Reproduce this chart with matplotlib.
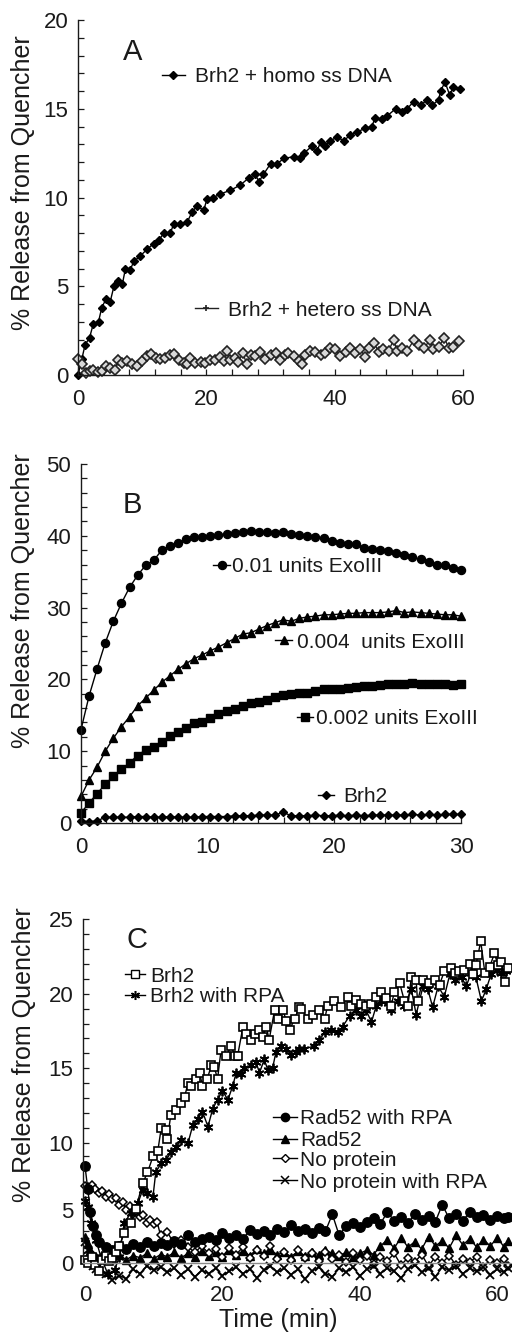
import numpy as np
import matplotlib
matplotlib.use("Agg")
import matplotlib.pyplot as plt
from matplotlib.legend import Legend
from matplotlib.ticker import FixedLocator, MultipleLocator, NullFormatter, FixedFormatter

plt.rcParams['font.family'] = ['Liberation Sans', 'DejaVu Sans']

# ---------------- Panel A data ----------------
a_homo_t = [0, 0.6, 1.1, 1.8, 2.4, 3.2, 3.7, 4.4, 5.0, 5.6, 6.2, 6.9, 7.4, 8.1, 8.7, 9.7, 10.8, 11.8,
            12.6, 13.4, 14.4, 14.9, 15.9, 17.0, 17.8, 18.5, 19.6, 20.1, 21.1, 22.2, 23.7, 25.3, 26.6,
            27.6, 28.2, 28.9, 30.0, 31.0, 32.1, 33.6, 34.6, 35.2, 36.5, 37.2, 37.8, 38.5, 39.3, 40.4,
            41.4, 42.4, 43.5, 44.8, 45.8, 46.3, 47.4, 48.2, 49.5, 50.5, 51.3, 52.3, 53.4, 54.4, 55.2,
            56.2, 56.5, 57.2, 57.9, 58.5, 59.5]
a_homo_v = [0, 0.9, 1.7, 2.1, 2.9, 3.0, 3.8, 4.3, 4.1, 5.0, 5.3, 5.1, 6.0, 5.9, 6.4, 6.7, 7.1, 7.4,
            7.6, 8.0, 8.0, 8.5, 8.5, 8.6, 9.2, 9.5, 9.3, 9.9, 10.0, 10.2, 10.4, 10.7, 11.1,
            11.3, 10.9, 11.3, 11.9, 11.9, 12.2, 12.3, 12.2, 12.5, 12.9, 12.6, 13.1, 12.9, 13.2, 13.4,
            13.2, 13.5, 13.7, 13.9, 14.0, 14.5, 14.4, 14.6, 15.0, 14.8, 15.0, 15.4, 15.2, 15.5, 15.2,
            15.5, 16.0, 16.5, 15.8, 16.2, 16.1]
a_het_t = [0, 0.6, 1.3, 1.9, 2.4, 3.1, 3.7, 4.4, 5.0, 5.8, 6.2, 6.9, 7.6, 8.4, 9.2, 10.0, 10.8, 11.3,
           12.1, 12.8, 13.6, 14.4, 15.0, 15.7, 16.5, 17.0, 17.5, 18.3, 19.1, 19.8, 20.6, 21.4, 22.1,
           22.7, 23.2, 23.7, 24.5, 25.0, 25.7, 26.3, 26.9, 27.6, 28.4, 29.2, 30.0, 30.8, 31.5, 32.2,
           32.8, 33.6, 34.4, 34.9, 35.4, 36.2, 37.0, 37.8, 38.5, 39.3, 40.1, 40.9, 41.7, 42.4, 43.2,
           44.0, 44.8, 45.3, 46.1, 46.9, 47.6, 48.4, 49.2, 49.7, 50.5, 51.3, 52.3, 53.1, 53.9, 54.8,
           55.4, 56.2, 57.1, 57.8, 58.5, 59.3]
a_het_v = [0.9, 0.6, 0.1, 0.2, 0.3, 0.15, 0.2, 0.5, 0.4, 0.3, 0.85, 0.7, 0.8, 0.6, 0.5, 0.8, 1.05, 1.2,
           0.95, 0.9, 0.95, 1.1, 1.2, 0.85, 0.7, 0.6, 0.95, 0.7, 0.75, 0.7, 0.85, 0.85, 1.0,
           0.8, 1.35, 0.85, 0.95, 0.75, 1.25, 0.6, 1.15, 1.05, 1.3, 0.9, 1.15, 1.25, 0.85, 1.1,
           1.25, 1.05, 0.8, 0.6, 1.1, 1.35, 1.3, 1.15, 1.25, 1.5, 1.45, 1.05, 1.3, 1.5, 1.25,
           1.45, 1.0, 1.5, 1.8, 1.3, 1.45, 1.35, 2.0, 1.35, 1.5, 1.35, 1.95, 1.7, 1.5, 1.95,
           1.45, 1.6, 2.1, 1.5, 1.6, 1.9]

# ---------------- Panel B data ----------------
b_t = np.linspace(0, 30, 48)
b_exo01 = [13.0, 17.7, 21.5, 25.1, 28.1, 30.6, 32.8, 34.5, 35.9, 36.6, 38.0, 38.6, 39.0, 39.5, 39.8, 39.9,
           40.0, 40.1, 40.3, 40.4, 40.5, 40.6, 40.5, 40.5, 40.4, 40.5, 40.2, 40.1, 40.0, 39.9, 39.7, 39.3,
           39.0, 38.9, 38.8, 38.3, 38.2, 38.0, 37.9, 37.6, 37.3, 37.0, 36.7, 36.4, 36.0, 35.9, 35.5, 35.2]
b_exo004 = [3.7, 6.0, 7.8, 10.0, 11.8, 13.4, 14.8, 16.3, 17.4, 18.5, 19.6, 20.5, 21.4, 22.2, 22.9, 23.4,
            24.0, 24.5, 25.1, 25.7, 26.3, 26.5, 27.0, 27.5, 27.9, 28.3, 28.1, 28.5, 28.7, 28.8, 29.0, 29.0,
            29.1, 29.2, 29.2, 29.3, 29.3, 29.3, 29.4, 29.6, 29.3, 29.4, 29.3, 29.2, 29.1, 29.0, 29.0, 28.8]
b_exo002 = [1.4, 2.8, 4.1, 5.4, 6.5, 7.5, 8.4, 9.4, 10.2, 10.6, 11.3, 12.1, 12.7, 13.3, 13.9, 14.1,
            14.6, 15.2, 15.6, 15.9, 16.3, 16.7, 16.9, 17.2, 17.6, 17.8, 17.9, 18.1, 18.1, 18.4, 18.7, 18.7,
            18.6, 18.8, 19.0, 19.1, 19.1, 19.2, 19.4, 19.4, 19.4, 19.5, 19.4, 19.4, 19.4, 19.4, 19.2, 19.4]
b_brh2 = [0.3, 0.2, 0.3, 0.8, 0.8, 0.8, 0.8, 0.9, 0.9, 0.8, 0.8, 0.9, 0.8, 0.8, 0.8, 0.9,
          0.9, 0.9, 0.9, 1.0, 1.0, 1.0, 1.1, 1.1, 1.1, 1.5, 1.0, 1.0, 1.0, 1.1, 1.0, 1.0,
          1.1, 1.0, 1.1, 1.0, 1.1, 1.1, 1.1, 1.1, 1.1, 1.2, 1.1, 1.2, 1.1, 1.2, 1.2, 1.2]

# ---------------- Panel C data ----------------
c_brh2_t = [0, 0.5, 1.0, 1.5, 2.0, 2.5, 3.0, 3.5, 4.0, 4.5, 5.0, 5.7, 6.7, 7.4, 8.4, 9.1, 9.9, 10.6, 11.1,
            11.8, 12.0, 12.5, 13.3, 14.0, 14.5, 15.0, 15.4, 16.2, 16.7, 17.1, 17.8, 18.4, 18.8, 19.3,
            19.8, 20.5, 21.3, 21.8, 22.2, 23.0, 23.4, 24.2, 24.7, 25.4, 25.9, 26.4, 26.8, 27.6, 28.1,
            28.8, 29.3, 29.8, 30.5, 31.2, 31.5, 32.4, 33.2, 34.1, 34.9, 35.3, 36.3, 37.3, 38.3, 38.7,
            39.5, 40.2, 40.9, 41.7, 42.4, 43.1, 43.8, 44.6, 45.0, 45.8, 46.5, 47.0, 47.5, 48.2, 48.4,
            49.2, 50.1, 50.9, 51.6, 52.3, 53.3, 53.8, 54.5, 55.2, 56.0, 56.5, 56.9, 57.2, 57.6, 58.2,
            58.9, 59.6, 60.1, 60.6, 61.1, 61.6]
c_brh2_v = [0.3, 0.0, 0.6, -0.2, -0.8, 0.3, 0.7, 0.2, 0.5, 1.0, 1.6, 2.8, 3.8, 5.1, 7.0, 7.8, 9.0, 9.4, 11.0,
            10.9, 10.3, 11.9, 12.2, 12.7, 13.1, 14.0, 13.8, 14.3, 14.7, 13.8, 14.3, 15.2, 15.1, 14.3,
            16.2, 15.8, 16.5, 15.8, 15.8, 17.8, 17.3, 16.9, 17.3, 17.6, 17.1, 17.8, 16.9, 18.9, 18.3,
            18.9, 18.2, 17.6, 18.3, 19.1, 19.0, 18.3, 18.6, 18.9, 18.3, 19.2, 19.5, 19.1, 19.8, 19.2,
            19.6, 19.3, 19.2, 19.3, 19.8, 20.1, 19.7, 19.2, 20.1, 20.7, 19.5, 19.2, 21.1, 20.9, 19.5,
            20.9, 20.7, 20.9, 20.6, 21.5, 21.7, 21.4, 21.5, 21.6, 22.0, 21.3, 21.9, 22.6, 23.5, 21.4,
            21.8, 22.7, 21.9, 22.1, 20.8, 21.7]
c_brh2rpa_t = [0, 0.4, 0.9, 1.6, 2.3, 3.3, 4.3, 5.0, 5.7, 6.7, 7.7, 8.4, 9.1, 9.9, 10.3, 11.1, 11.8,
               12.5, 13.3, 14.0, 15.0, 15.7, 16.4, 17.1, 17.9, 18.6, 19.3, 20.0, 20.8, 21.5, 22.0, 22.7,
               23.2, 24.2, 24.9, 25.4, 26.1, 26.6, 27.3, 27.8, 28.5, 29.3, 30.0, 30.7, 31.2, 31.9, 33.4,
               34.1, 34.9, 35.8, 36.8, 37.5, 38.5, 39.5, 40.2, 40.9, 41.7, 42.4, 43.1, 44.1, 44.6, 45.5,
               46.5, 47.5, 48.2, 49.2, 49.9, 50.6, 51.4, 52.3, 53.1, 53.8, 54.8, 55.5, 56.2, 56.9, 57.7,
               58.4, 59.1, 59.9, 60.6, 61.3]
c_brh2rpa_v = [5.7, 5.2, 3.8, 2.2, 0.6, -1.0, -0.7, 0.6, 3.8, 4.7, 5.5, 6.5, 6.3, 6.0, 7.8, 8.5, 8.7,
               9.3, 9.7, 10.2, 10.0, 11.2, 11.6, 12.1, 11.1, 12.3, 12.9, 13.5, 12.9, 13.8, 14.7, 14.6,
               15.0, 15.2, 15.4, 14.7, 15.6, 14.9, 15.0, 16.1, 16.5, 16.3, 15.9, 16.1, 16.3, 16.3, 16.5,
               16.9, 17.4, 17.6, 17.4, 17.8, 18.5, 18.9, 18.5, 18.9, 18.1, 19.2, 19.5, 19.4, 18.9, 19.5,
               19.2, 20.3, 18.6, 20.5, 20.3, 19.1, 20.5, 19.8, 21.3, 20.9, 21.1, 20.5, 21.4, 21.1, 19.5,
               20.3, 21.3, 21.6, 21.4, 21.5]
c_low_t = [0, 0.4, 0.8, 1.2, 1.6, 2, 3, 4, 5, 6, 7, 8, 9, 10, 11, 12, 13, 14, 15, 16, 17, 18, 19, 20,
           21, 22, 23, 24, 25, 26, 27, 28, 29, 30, 31, 32, 33, 34, 35, 36, 37, 38, 39, 40, 41, 42, 43,
           44, 45, 46, 47, 48, 49, 50, 51, 52, 53, 54, 55, 56, 57, 58, 59, 60, 61, 61.6]
c_rad52rpa = [8.3, 6.6, 4.8, 3.5, 2.6, 2.0, 1.5, 1.2, 1.6, 1.3, 1.8, 1.5, 2.0, 1.6, 1.9, 1.7, 2.1, 1.8,
              2.6, 2.0, 2.3, 2.5, 2.2, 2.8, 2.4, 2.6, 2.3, 3.1, 2.7, 3.0, 2.6, 3.2, 2.9, 3.6, 3.0, 3.2,
              2.8, 3.3, 3.0, 4.6, 2.6, 3.5, 3.8, 3.4, 3.9, 4.2, 3.7, 4.8, 4.0, 4.3, 3.8, 4.6, 4.1, 4.4,
              3.9, 5.4, 4.2, 4.6, 4.0, 4.8, 4.3, 4.5, 4.1, 4.4, 4.2, 4.3]
c_rad52 = [2.5, 1.8, 1.2, 0.8, 0.6, 0.5, 0.9, 0.4, 0.8, 0.3, 0.7, 0.5, 0.9, 0.4, 0.8, 0.6, 1.0, 0.5,
           0.9, 0.6, 1.1, 0.7, 1.0, 0.6, 1.2, 0.8, 1.1, 0.7, 1.3, 0.9, 1.2, 0.8, 1.0, 0.6, 1.1, 0.7,
           1.0, 0.8, 1.2, 0.9, 0.7, 1.0, 0.6, 0.9, 1.2, 0.8, 1.6, 2.2, 1.4, 2.4, 1.5, 2.0, 1.3, 2.5,
           1.6, 2.1, 1.4, 2.6, 1.7, 2.3, 1.5, 2.2, 1.6, 2.4, 1.5, 2.1]
c_noprot_t = [0, 0.5, 1, 1.5, 2, 2.5, 3, 3.5, 4, 4.5, 5, 5.5, 6, 6.5, 7, 7.5, 8, 8.5, 9, 9.5, 10, 10.5,
              11, 12, 13, 14, 15, 16, 17, 18, 19, 20, 21, 22, 23, 24, 25, 26, 27, 28, 29, 30, 31, 32,
              33, 34, 35, 36, 37, 38, 39, 40, 41, 42, 43, 44, 45, 46, 47, 48, 49, 50, 51, 52, 53, 54,
              55, 56, 57, 58, 59, 60, 61, 61.6]
c_noprot = [6.8, 6.7, 6.9, 6.6, 6.3, 6.4, 6.0, 6.2, 5.8, 5.9, 5.4, 5.6, 5.0, 5.3, 4.6, 4.9, 4.3, 4.5,
            3.8, 4.1, 3.7, 3.9, 2.6, 2.9, 1.8, 2.2, 1.5, 1.0, 1.6, 0.9, 1.3, 0.6, 1.4, 0.8, 1.5, 0.5,
            1.2, 0.7, 1.6, 0.4, 1.0, 0.3, 1.2, 0.5, 0.9, 0.2, 1.0, 0.4, 0.8, 0.1, 0.9, 0.3, 0.7, -0.1,
            0.6, 0.2, 0.9, -0.2, 0.5, 0.1, 0.8, -0.3, 0.6, 0.0, 0.7, -0.2, 0.4, 0.1, 0.6, -0.4, 0.3,
            0.0, 0.4, -0.3]
c_noprotrpa = [2.0, 1.2, 0.4, -0.3, -0.6, -0.8, -1.0, -1.6, -1.2, -1.5, -0.6, -1.0, -0.3, -0.7, -0.4,
               -0.9, -0.5, -1.1, -0.6, -1.3, -0.7, -1.0, -0.5, -1.2, -0.8, -0.4, -1.0, -0.6, -1.4,
               -0.7, -0.3, -0.9, -0.5, -1.1, -0.6, -1.5, -0.8, -0.4, -1.0, -1.3, -0.5, -0.9, -0.4,
               -1.2, -0.6, -0.3, -1.0, -0.5, -0.8, -1.4, -0.6, -0.2, -0.9, -0.5, -1.3, -0.4, -0.7,
               -0.3, -1.0, -0.5, -0.8, -0.4, -1.1, -0.6, -0.9, -0.5]

# ---------------- figure ----------------
W, H = 512, 1340
fig = plt.figure(figsize=(W / 100, H / 100), dpi=100)
INK = '#1a1a1a'
TICK_FS = 16
LEG_FS = 15


def px_axes(l, r, t, b):
    return fig.add_axes([l / W, 1 - b / H, (r - l) / W, (b - t) / H])


def style(ax):
    for s in ['top', 'right']:
        ax.spines[s].set_visible(False)
    for s in ['left', 'bottom']:
        ax.spines[s].set_color(INK)
        ax.spines[s].set_linewidth(1.0)
    ax.tick_params(which='both', direction='in', colors=INK, labelcolor=INK, labelsize=TICK_FS, width=0.9)
    ax.tick_params(which='major', length=4)
    ax.tick_params(which='minor', length=4)
    ax.tick_params(axis='x', pad=10)
    ax.tick_params(axis='y', pad=7)


def leg(ax, handle, label, fx, fy, hl, htp):
    lg = Legend(ax, [handle], [label], loc='center left', bbox_to_anchor=(fx, fy), frameon=False,
                borderpad=0, borderaxespad=0, handlelength=hl, handletextpad=htp,
                fontsize=LEG_FS, numpoints=1, labelcolor=INK)
    ax.add_artist(lg)


# ---- Panel A ----
axA = px_axes(78, 463, 20, 375)
style(axA)
hA1, = axA.plot(a_homo_t, a_homo_v, '-', color='black', lw=1.0, marker='D', ms=4.4,
                mfc='black', mec='black', clip_on=False)
hA2, = axA.plot(a_het_t, a_het_v, '-', color='#222222', lw=1.0, marker='D', ms=4.6,
                mfc='#d8d8d8', mec='#222222', mew=1.2, clip_on=False)
axA.set_xlim(0, 60)
axA.set_ylim(0, 20)
axA.xaxis.set_major_locator(MultipleLocator(20))
axA.xaxis.set_minor_locator(MultipleLocator(4))
axA.yaxis.set_major_locator(MultipleLocator(5))
axA.yaxis.set_minor_locator(MultipleLocator(1))
cA = lambda px, py: ((px - 78) / 385, (375 - py) / 355)
leg(axA, hA1, 'Brh2 + homo ss DNA', *cA(162, 77), 1.1, 0.48)
hA2l, = axA.plot([], [], '-', color='#222222', lw=1.0, marker='+', ms=5, mew=1.2)
leg(axA, hA2l, 'Brh2 + hetero ss DNA', *cA(195, 310), 1.1, 0.48)

# ---- Panel B ----
axB = px_axes(81, 461, 464, 823)
style(axB)
hB1, = axB.plot(b_t, b_exo01, '-', color='black', lw=1.0, marker='o', ms=5.8, clip_on=False)
hB2, = axB.plot(b_t, b_exo004, '-', color='black', lw=1.0, marker='^', ms=5.6, clip_on=False)
hB3, = axB.plot(b_t, b_exo002, '-', color='black', lw=1.0, marker='s', ms=5.4, clip_on=False)
hB4, = axB.plot(b_t, b_brh2, '-', color='black', lw=1.0, marker='D', ms=3.8, clip_on=False)
axB.set_xlim(0, 30)
axB.set_ylim(0, 50)
axB.xaxis.set_major_locator(MultipleLocator(10))
axB.xaxis.set_minor_locator(MultipleLocator(2))
axB.yaxis.set_major_locator(MultipleLocator(10))
axB.yaxis.set_minor_locator(MultipleLocator(2))
cB = lambda px, py: ((px - 81) / 380, (823 - py) / 359)
leg(axB, hB1, '0.01 units ExoIII', *cB(213, 567), 0.82, 0.1)
leg(axB, hB2, '0.004  units ExoIII', *cB(275, 642), 0.82, 0.24)
leg(axB, hB3, '0.002 units ExoIII', *cB(297, 719), 0.75, 0.15)
leg(axB, hB4, 'Brh2', *cB(318, 797), 0.75, 0.48)

# ---- Panel C ----
C_L, C_R, C_T, C_B = 82.9, 509.6, 919, 1263
axC = px_axes(C_L, C_R, C_T, C_B)
knot_v = np.array([-20.0, 0.0, 5.0, 10.0, 25.0, 40.0])
knot_p = -np.array([1473.0, 1263.0, 1210.0, 1143.0, 919.0, 695.0])
fwd = lambda v: np.interp(v, knot_v, knot_p)
inv = lambda p: np.interp(p, knot_p, knot_v)
axC.set_yscale('function', functions=(fwd, inv))
style(axC)
axC.spines['bottom'].set_color('#8a8a8a')
axC.tick_params(axis='x', which='both', length=0, pad=16)
kw = dict(lw=1.0, color='black', clip_on=False)
axC.plot(c_low_t, c_rad52, '-', marker='^', ms=6.0, **kw)
axC.plot(c_noprot_t, c_noprot, '-', marker='D', ms=4.4, mfc='white', mec='black', mew=1.1, **kw)
axC.plot(c_low_t, c_noprotrpa, '-', marker='x', ms=6.0, mew=1.3, **kw)
axC.plot(c_low_t, c_rad52rpa, '-', marker='o', ms=6.8, **kw)
axC.plot(c_brh2rpa_t, c_brh2rpa_v, '-', marker=(6, 2, 0), ms=7.0, mew=1.3, **kw)
axC.plot(c_brh2_t, c_brh2_v, '-', marker='s', ms=6.4, mfc='white', mec='black', mew=1.2, **kw)
axC.set_xlim(-0.3, 61.8)
axC.set_ylim(0, 25)
axC.xaxis.set_major_locator(MultipleLocator(20))
axC.yaxis.set_major_locator(FixedLocator([0, 5, 10, 15, 20, 25]))
axC.yaxis.set_minor_locator(FixedLocator(list(range(0, 26))))
axC.yaxis.set_major_formatter(FixedFormatter(['0', '5', '10', '15', '20', '25']))
axC.yaxis.set_minor_formatter(NullFormatter())
cC = lambda px, py: ((px - C_L) / (C_R - C_L), (C_B - py) / (C_B - C_T))
lk = dict(lw=1.0, color='black')
hc1, = axC.plot([], [], '-', marker='s', ms=5.8, mfc='white', mec='black', mew=1.0, **lk)
hc2, = axC.plot([], [], '-', marker=(6, 2, 0), ms=6.5, mew=1.1, **lk)
hc3, = axC.plot([], [], '-', marker='o', ms=6.0, **lk)
hc4, = axC.plot([], [], '-', marker='^', ms=5.5, **lk)
hc5, = axC.plot([], [], '-', marker='D', ms=4.0, mfc='white', mec='black', **lk)
hc6, = axC.plot([], [], '-', marker='x', ms=5.5, mew=1.1, **lk)
leg(axC, hc1, 'Brh2', *cC(125, 976), 0.96, 0.24)
leg(axC, hc2, 'Brh2 with RPA', *cC(125, 997), 0.96, 0.24)
leg(axC, hc3, 'Rad52 with RPA', *cC(273, 1119), 1.15, 0.15)
leg(axC, hc4, 'Rad52', *cC(273, 1141), 1.15, 0.15)
leg(axC, hc5, 'No protein', *cC(273, 1160), 1.15, 0.15)
leg(axC, hc6, 'No protein with RPA', *cC(273, 1182), 1.15, 0.15)

# ---- texts ----
for (x, y) in [(23, 183), (23, 601), (24, 1055)]:
    fig.text(x / W, 1 - y / H, '% Release from Quencher', rotation=90, ha='center', va='center',
             fontsize=18, color=INK)
for (x, y, s) in [(133, 52, 'A'), (132, 505, 'B'), (137, 940, 'C')]:
    fig.text(x / W, 1 - y / H, s, ha='center', va='center', fontsize=21, color=INK)
fig.text(278 / W, 1 - 1320 / H, 'Time (min)', ha='center', va='center', fontsize=18, color=INK)

fig.savefig('out.png', dpi=100, facecolor='white')
